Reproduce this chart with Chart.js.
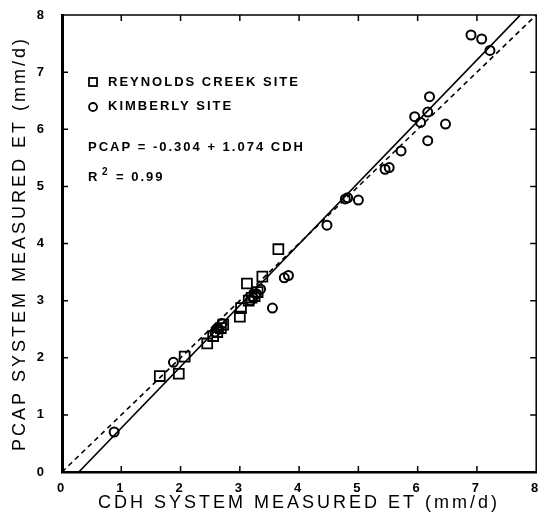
<!DOCTYPE html>
<html>
<head>
<meta charset="utf-8">
<script src="https://cdn.jsdelivr.net/npm/chart.js@4.4.0/dist/chart.umd.min.js"></script>
<style>
  html, body { margin: 0; padding: 0; background: #fff; }
</style>
</head>
<body>
<canvas id="etChart" width="545" height="513"></canvas>
<script>
// Reynolds Creek site (squares)
const reynoldsX = [1.65, 1.97, 2.07, 2.45, 2.55, 2.62, 2.68, 2.72, 3.00, 3.02, 3.15, 3.20, 3.25, 3.30, 3.12, 3.38, 3.65];
const reynoldsY = [1.68, 1.72, 2.02, 2.25, 2.38, 2.45, 2.52, 2.58, 2.72, 2.87, 3.00, 3.05, 3.08, 3.15, 3.30, 3.42, 3.90];

// Kimberly site (circles)
const kimberlyX = [0.88, 1.88, 2.58, 2.62, 2.65, 2.70, 3.18, 3.22, 3.28, 3.35, 3.55, 3.75, 3.82, 4.47, 4.78, 4.82, 5.00, 5.45, 5.52, 5.72, 5.95, 6.05, 6.17, 6.20, 6.17, 6.47, 6.90, 7.08, 7.22];
const kimberlyY = [0.70, 1.92, 2.45, 2.52, 2.50, 2.60, 3.00, 3.05, 3.12, 3.20, 2.87, 3.40, 3.44, 4.32, 4.78, 4.80, 4.76, 5.30, 5.33, 5.62, 6.22, 6.12, 6.30, 6.57, 5.80, 6.09, 7.65, 7.58, 7.38];

// regression PCAP = a + b * CDH, and 1:1 line
const fitIntercept = -0.304;
const fitSlope = 1.074;
const fitX = [0.283, 7.73];
const oneToOne = [0, 8];

const axisTicks = [0, 1, 2, 3, 4, 5, 6, 7, 8];

const toPoints = (xs, ys) => xs.map((x, i) => ({ x: x, y: ys[i] }));

// inward tick marks, frame and the text block inside the plot
const framePlugin = {
  id: "frame",
  beforeDraw(chart) {
    chart.ctx.letterSpacing = "3px";
  },
  afterDraw(chart) {
    const ctx = chart.ctx;
    const { left, right, top, bottom } = chart.chartArea;
    const xs = chart.scales.x, ys = chart.scales.y;
    ctx.save();
    ctx.strokeStyle = "#000";
    ctx.lineWidth = 1.5;
    ctx.beginPath();
    ctx.moveTo(left, top); ctx.lineTo(right, top); ctx.lineTo(right, bottom);
    axisTicks.forEach(v => {
      const px = xs.getPixelForValue(v);
      ctx.moveTo(px, bottom); ctx.lineTo(px, bottom - 6);
      ctx.moveTo(px, top); ctx.lineTo(px, top + 6);
      const py = ys.getPixelForValue(v);
      ctx.moveTo(left, py); ctx.lineTo(left + 6, py);
      ctx.moveTo(right, py); ctx.lineTo(right - 6, py);
    });
    ctx.stroke();

    // legend markers
    ctx.lineWidth = 1.8;
    ctx.strokeRect(left + 27, top + 63, 8, 8);
    ctx.beginPath();
    ctx.arc(left + 31, top + 92, 4, 0, Math.PI * 2);
    ctx.stroke();

    ctx.fillStyle = "#000";
    ctx.textBaseline = "middle";
    ctx.textAlign = "left";
    ctx.letterSpacing = "2px";
    ctx.font = "bold 13px 'Liberation Sans', Arial, sans-serif";
    ctx.fillText("REYNOLDS CREEK SITE", left + 46, top + 67);
    ctx.fillText("KIMBERLY SITE", left + 46, top + 91);
    ctx.fillText("PCAP = -0.304 + 1.074 CDH", left + 26, top + 132);
    ctx.fillText("R", left + 26, top + 162);
    ctx.fillText("= 0.99", left + 54, top + 162);
    ctx.font = "bold 10px 'Liberation Sans', Arial, sans-serif";
    ctx.fillText("2", left + 40, top + 157);
    ctx.restore();
  }
};

const ctx = document.getElementById("etChart").getContext("2d");

new Chart(ctx, {
  type: "scatter",
  data: {
    datasets: [
      {
        type: "line",
        label: "Regression",
        data: fitX.map(x => ({ x: x, y: fitIntercept + fitSlope * x })),
        borderColor: "#000",
        borderWidth: 1.6,
        pointRadius: 0,
        fill: false,
        order: 2,
      },
      {
        type: "line",
        label: "1:1",
        data: oneToOne.map(v => ({ x: v, y: v })),
        borderColor: "#000",
        borderWidth: 1.6,
        borderDash: [5, 4],
        pointRadius: 0,
        fill: false,
        order: 2,
      },
      {
        label: "REYNOLDS CREEK SITE",
        data: toPoints(reynoldsX, reynoldsY),
        pointStyle: "rect",
        pointRadius: 7,
        borderColor: "#000",
        borderWidth: 1.8,
        backgroundColor: "rgba(255,255,255,0)",
        order: 1,
      },
      {
        label: "KIMBERLY SITE",
        data: toPoints(kimberlyX, kimberlyY),
        pointStyle: "circle",
        pointRadius: 4.5,
        borderColor: "#000",
        borderWidth: 2,
        backgroundColor: "rgba(255,255,255,0)",
        order: 1,
      },
    ],
  },
  options: {
    responsive: false,
    animation: false,
    devicePixelRatio: 1,
    layout: { padding: { top: 15, right: 5, left: 0, bottom: 0 } },
    plugins: {
      legend: { display: false },
      tooltip: { enabled: false },
    },
    scales: {
      x: {
        type: "linear",
        min: 0,
        max: 8,
        afterFit: scale => {
          scale.height = 41;
          scale.paddingLeft = 0;
          scale.paddingRight = 0;
        },
        afterBuildTicks: scale => { scale.ticks = axisTicks.map(v => ({ value: v })); },
        grid: { display: false, drawTicks: false },
        border: { display: true, color: "#000", width: 2.5 },
        ticks: {
          padding: 9,
          color: "#000",
          font: { family: "'Liberation Sans', Arial, sans-serif", size: 13, weight: "bold" },
        },
        title: {
          display: true,
          text: "CDH SYSTEM MEASURED ET (mm/d)",
          color: "#000",
          padding: { top: 0, bottom: 0 },
          font: { family: "'Liberation Sans', Arial, sans-serif", size: 18, lineHeight: 1.1 },
        },
      },
      y: {
        type: "linear",
        min: 0,
        max: 8,
        afterFit: scale => {
          scale.width = 62;
          scale.paddingTop = 0;
          scale.paddingBottom = 0;
        },
        afterBuildTicks: scale => { scale.ticks = axisTicks.map(v => ({ value: v })); },
        grid: { display: false, drawTicks: false },
        border: { display: true, color: "#000", width: 3 },
        ticks: {
          padding: 15,
          color: "#000",
          font: { family: "'Liberation Sans', Arial, sans-serif", size: 13, weight: "bold" },
        },
        title: {
          display: true,
          text: "PCAP SYSTEM MEASURED ET (mm/d)",
          color: "#000",
          padding: { top: 9, bottom: 0 },
          font: { family: "'Liberation Sans', Arial, sans-serif", size: 18 },
        },
      },
    },
  },
  plugins: [framePlugin],
});
</script>
</body>
</html>
